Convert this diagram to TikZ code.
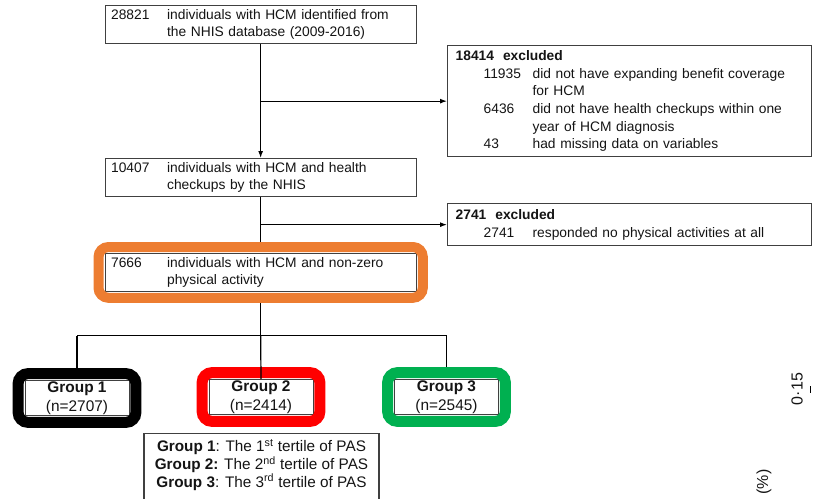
\documentclass[tikz,border=0pt]{standalone}
\usepackage{fontspec}
\setmainfont{Liberation Sans}
\usetikzlibrary{arrows.meta,positioning,fit}
\definecolor{fcgray}{HTML}{404040}
\definecolor{fctext}{HTML}{141414}
\definecolor{fcorange}{HTML}{ED7D31}
\definecolor{fcred}{HTML}{FF0000}
\definecolor{fcgreen}{HTML}{00B050}

\begin{document}
\begin{tikzpicture}[
  x=1pt,y=-1pt,
  every node/.style={font=\fontsize{13.8}{17.6}\selectfont,text=fctext},
  B/.style={draw=fcgray,line width=1.3pt,fill=white,anchor=north west,
            minimum width=311pt,minimum height=37.5pt,inner xsep=6pt,
            text width=299pt,align=left},
  X/.style={draw=fcgray,line width=1.3pt,anchor=north west,
            minimum width=364pt,inner xsep=8pt,text width=348pt,align=left},
  G/.style={draw=fcgray,line width=0.8pt,fill=white,inner sep=1pt,
            minimum width=104pt,minimum height=35pt,align=center,
            font=\fontsize{15.4}{19}\selectfont},
  R/.style={draw=#1,line width=11pt,rounded corners=10pt,
            inner sep=6.5pt,outer sep=5.5pt},
  ln/.style={line width=1.2pt,black},
  ar/.style={ln,-{Latex[length=7pt,width=5pt]}}
]
\useasboundingbox (0,0) rectangle (813,498);
\clip (0,0) rectangle (813,498);

\node[B](hcm) at (104.5,5)
  {\makebox[56pt][l]{28821}individuals with HCM identified from\\
   \hspace*{56pt}the NHIS database (2009-2016)};
\node[X,minimum height=111pt](exa) at (447,45)
  {\textbf{18414\hspace{9pt}excluded}\\
   \hspace*{28pt}\makebox[49pt][l]{11935}did not have expanding benefit coverage\\
   \hspace*{77pt}for HCM\\
   \hspace*{28pt}\makebox[49pt][l]{6436}did not have health checkups within one\\
   \hspace*{77pt}year of HCM diagnosis\\
   \hspace*{28pt}\makebox[49pt][l]{43}had missing data on variables};
\node[B](chk) at (104.5,158)
  {\makebox[56pt][l]{10407}individuals with HCM and health\\
   \hspace*{56pt}checkups by the NHIS};
\node[X,minimum height=42pt](exb) at (447,203)
  {\textbf{2741\hspace{9pt}excluded}\\
   \hspace*{28pt}\makebox[49pt][l]{2741}responded no physical activities at all};
\node[B](act) at (104.5,253)
  {\makebox[56pt][l]{7666}individuals with HCM and non-zero\\
   \hspace*{56pt}physical activity};
\node[R=fcorange,line width=10pt,inner sep=6pt,outer sep=5pt,fit=(act)](actr){};

\node[G](grpa) at (77,398){\textbf{Group 1}\\(n=2707)};
\node[G](grpb) at (261,397){\textbf{Group 2}\\(n=2414)};
\node[G](grpc) at (446.5,397){\textbf{Group 3}\\(n=2545)};
\node[R=black,fit=(grpa)](grpar){};
\node[R=fcred,fit=(grpb)](grpbr){};
\node[R=fcgreen,fit=(grpc)](grpcr){};

\node[draw=fcgray,line width=1.3pt,anchor=north,minimum width=235pt,
      inner ysep=6pt,align=center,font=\fontsize{15.3}{17.6}\selectfont](key)
      at (261.5,433)
  {\textbf{Group 1}: The 1\textsuperscript{st} tertile of PAS\\
   \textbf{Group 2:} The 2\textsuperscript{nd} tertile of PAS\\
   \textbf{Group 3}: The 3\textsuperscript{rd} tertile of PAS\\
   \mbox{}};

\node[rotate=90,font=\fontsize{16}{18}\selectfont](ytick) at (797,389){0·15};
\node[rotate=90,font=\fontsize{16}{18}\selectfont](yunit) at (764,482){(\%)};
\draw[line width=0.9pt] (810,386) -- (810,393);

\draw[ar](hcm.south)--(chk.north);
\draw[ar](hcm.south |- exa.west)--(exa.west);
\draw[ln](chk.south)--(actr.north);
\draw[ar](chk.south |- exb.west)--(exb.west);
\draw[ln](actr.south)--++(0,33) coordinate (split);
\draw[ln](grpar.north |- split)--(grpcr.north |- split);
\draw[ln](grpar.north |- split)--(grpar.north);
\draw[ln](split)--(grpb.north);
\draw[ln](grpcr.north |- split)--(grpcr.north);
\end{tikzpicture}
\end{document}
